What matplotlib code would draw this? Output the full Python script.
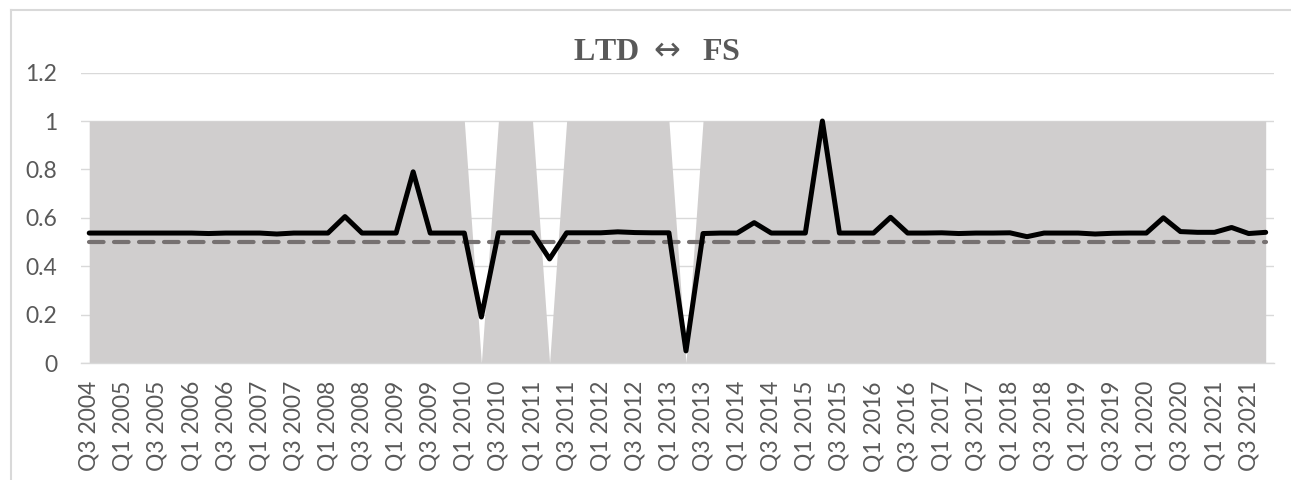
import matplotlib.pyplot as plt
from matplotlib.lines import Line2D

# quarters Q3 2004 .. Q4 2021
quarters = ['Q%d %d' % (q, y) for y in range(2004, 2022) for q in (1, 2, 3, 4)][2:]

ltd_fs = [0.537, 0.537, 0.537, 0.537, 0.537, 0.537, 0.537, 0.535, 0.537, 0.537,
          0.537, 0.533, 0.537, 0.537, 0.537, 0.605, 0.537, 0.537, 0.537, 0.79,
          0.537, 0.537, 0.537, 0.19, 0.538, 0.538, 0.538, 0.43, 0.538, 0.538,
          0.538, 0.542, 0.539, 0.538, 0.538, 0.05, 0.535, 0.537, 0.537, 0.58,
          0.537, 0.537, 0.537, 1.0, 0.537, 0.537, 0.537, 0.602, 0.537, 0.537,
          0.538, 0.535, 0.537, 0.537, 0.538, 0.522, 0.537, 0.537, 0.537, 0.533,
          0.536, 0.537, 0.537, 0.6, 0.543, 0.54, 0.54, 0.56, 0.535, 0.54]
threshold = [0.5] * len(quarters)
regime = [1] * len(quarters)
for k in (23, 27, 35):
    regime[k] = 0

x = list(range(len(quarters)))

fig = plt.figure(figsize=(12.91, 4.8), dpi=100)
ax = fig.add_axes([0.0625, 0.24375, 0.9245, 0.605])

ax.fill_between(x, 0, regime, color='#D0CECE', linewidth=0, zorder=2)
ax.plot(x, threshold, color='#767171', lw=3.0, linestyle=(0, (3.5, 2.5)),
        dash_capstyle='round', zorder=3)
ax.plot(x, ltd_fs, color='black', lw=3.6, solid_joinstyle='round',
        solid_capstyle='round', zorder=4)

ax.set_xlim(-0.5, len(quarters) - 0.5)
ax.set_ylim(0, 1.2)
ax.set_yticks([0, 0.2, 0.4, 0.6, 0.8, 1, 1.2])
ax.set_yticklabels(['0', '0.2', '0.4', '0.6', '0.8', '1', '1.2'])
ax.set_xticks(x[::2])
ax.set_xticklabels(quarters[::2], rotation=90, va='top', ha='center')
ax.grid(axis='y', color='#D9D9D9', lw=1.0, zorder=0)
ax.set_axisbelow(True)
for s in ['top', 'right', 'left']:
    ax.spines[s].set_visible(False)
ax.spines['bottom'].set_color('#D9D9D9')
ax.spines['bottom'].set_linewidth(1.0)
ax.tick_params(axis='y', length=0, pad=17, labelsize=16.5, labelcolor='#595959')
ax.tick_params(axis='x', length=0, pad=13, labelsize=16.5, labelcolor='#595959')
for lab in ax.get_xticklabels() + ax.get_yticklabels():
    lab.set_fontfamily('Lato')

fig.text(657 / 1291, 0.875, r'LTD $\leftrightarrow$  FS', ha='center', va='baseline',
         fontsize=23, fontweight='bold', family='Liberation Serif', color='#595959')

# chart border (top and left edges only are inside the picture)
fig.add_artist(Line2D([11 / 1291, 11 / 1291], [0, 1 - 10 / 480], color='#D9D9D9', lw=1.5))
fig.add_artist(Line2D([11 / 1291, 1], [1 - 10 / 480, 1 - 10 / 480], color='#D9D9D9', lw=1.5))

fig.savefig('out.png', dpi=100)
